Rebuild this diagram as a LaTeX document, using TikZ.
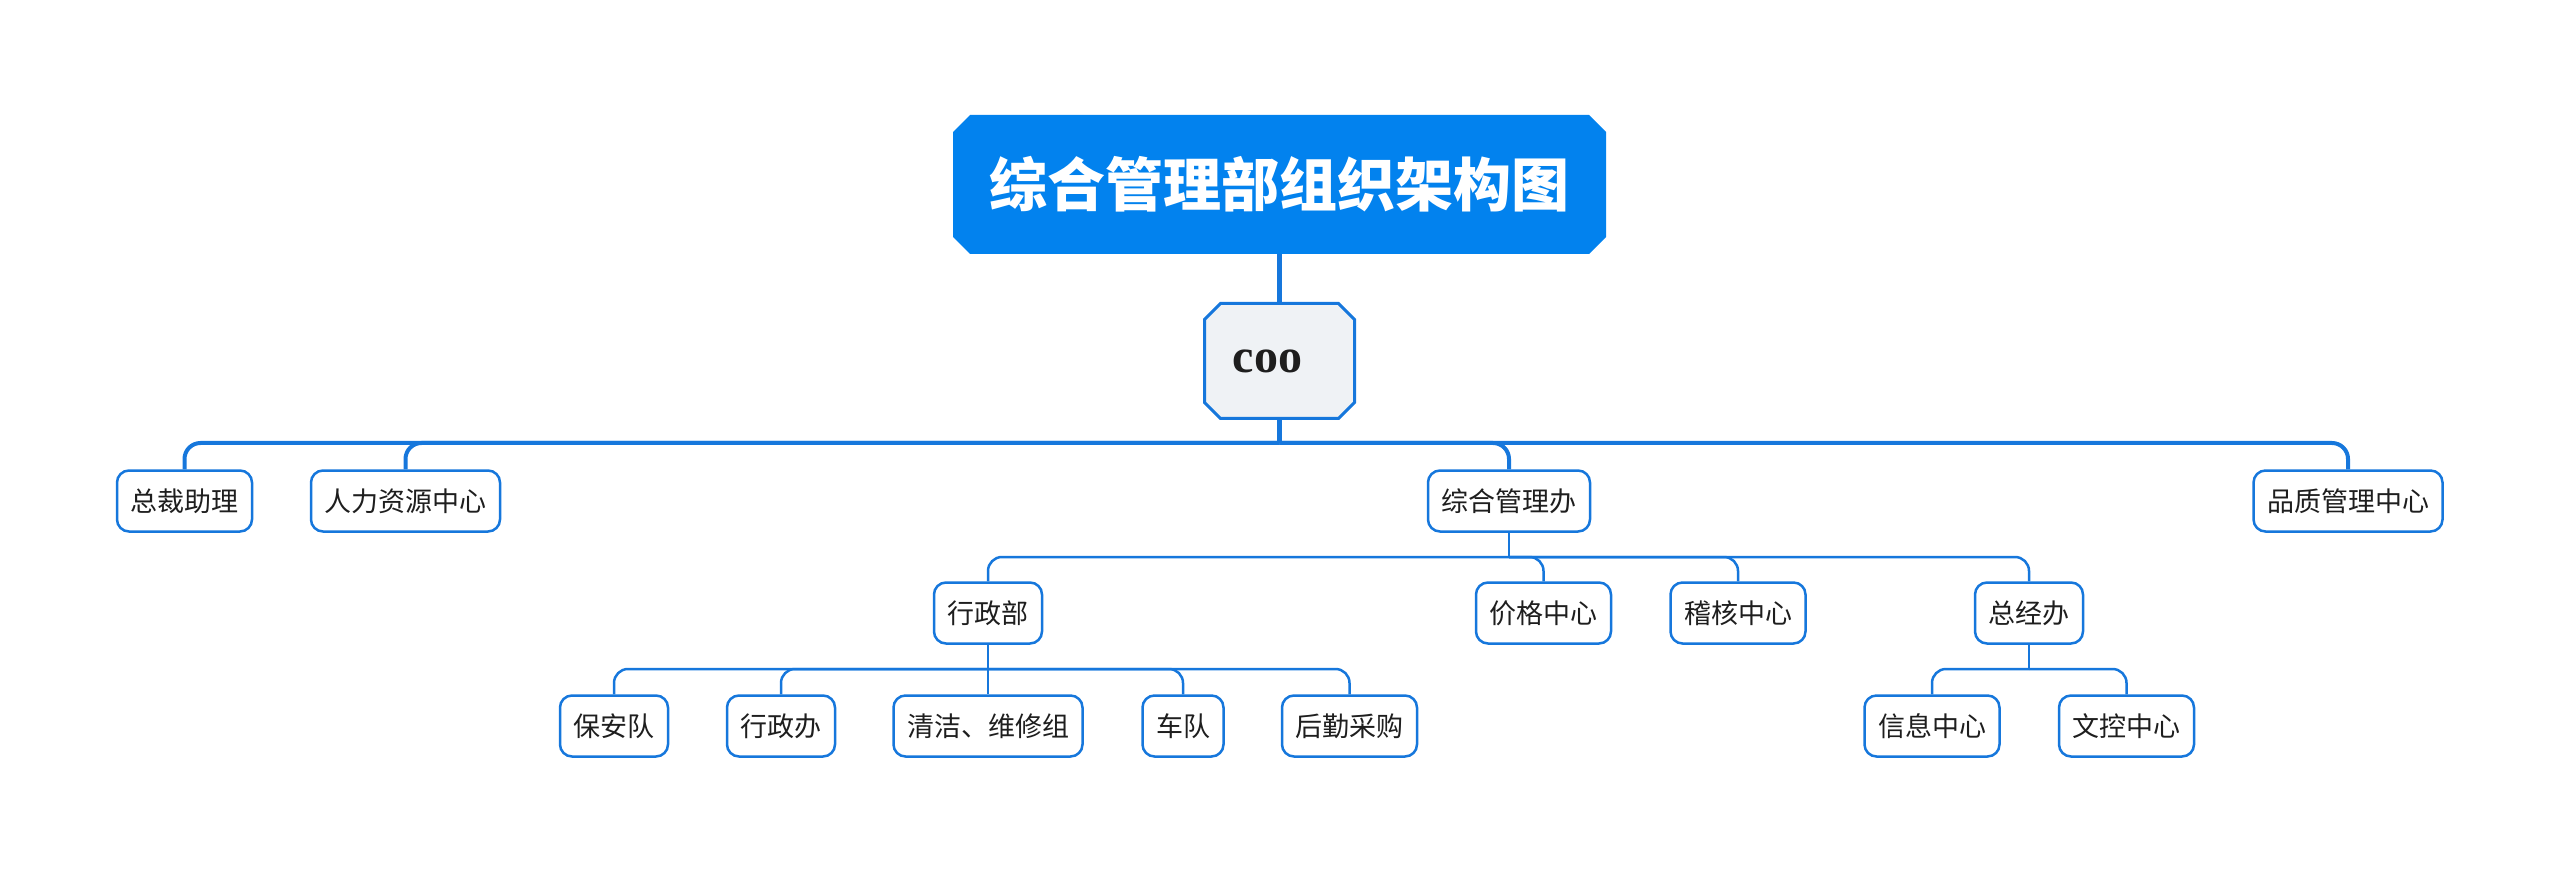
\documentclass[tikz,border=0pt]{standalone}
\usepackage{fontspec}
\newfontfamily\cjk{Noto Sans CJK SC}
\newfontfamily\serifb{Liberation Serif}
\definecolor{titleblue}{RGB}{2,130,238}
\definecolor{lineblue}{RGB}{22,119,220}
\definecolor{coofill}{RGB}{239,242,245}
\definecolor{txt}{RGB}{30,30,30}
% chamfered outline inside the path picture bounding box: #1 chamfer x, #2 chamfer y, #3 inset
\newcommand\chamferpath[3]{%
  ([xshift=#1+#3, yshift=-#3]path picture bounding box.north west) --
  ([xshift=-#1-#3, yshift=-#3]path picture bounding box.north east) --
  ([xshift=-#3, yshift=-#2-#3]path picture bounding box.north east) --
  ([xshift=-#3, yshift=#2+#3]path picture bounding box.south east) --
  ([xshift=-#1-#3, yshift=#3]path picture bounding box.south east) --
  ([xshift=#1+#3, yshift=#3]path picture bounding box.south west) --
  ([xshift=#3, yshift=#2+#3]path picture bounding box.south west) --
  ([xshift=#3, yshift=-#2-#3]path picture bounding box.north west) -- cycle}
\tikzset{
  titlebox/.style={rectangle, inner sep=0pt, minimum width=653pt, minimum height=139pt,
    text=white, font=\cjk\bfseries\fontsize{58pt}{58pt}\selectfont,
    path picture={\fill[titleblue] \chamferpath{17pt}{17pt}{0pt};}},
  coobox/.style={rectangle, inner sep=0pt, minimum width=153pt, minimum height=118pt,
    text=txt, font=\serifb\bfseries\fontsize{48pt}{48pt}\selectfont,
    path picture={\draw[fill=coofill, draw=lineblue, line width=3pt] \chamferpath{16pt}{16pt}{1.5pt};}},
  topic/.style={rectangle, rounded corners=12pt, draw=lineblue, line width=2.5pt, fill=white,
    minimum height=61pt, inner xsep=13.5pt, inner ysep=0pt, text=txt,
    font=\cjk\fontsize{27pt}{27pt}\selectfont},
  trunk/.style={draw=lineblue, line width=5pt},
  busone/.style={draw=lineblue, line width=4pt, rounded corners=16pt},
  bustwo/.style={draw=lineblue, line width=2.5pt, rounded corners=14pt},
}
\begin{document}
\begin{tikzpicture}[x=1pt,y=-1pt]
\useasboundingbox (0,0) rectangle (2560,874);
% nodes
\node[titlebox] (title) at (1279.5,184.5) {综合管理部组织架构图};
\node[coobox] (coo) at (1279.5,361) {coo\hspace*{24pt}};
\coordinate (j1) at (1279.5,443);
\node[topic] (zcz) at (184.5,501) {总裁助理};
\node[topic] (rlzy) at (405.5,501) {人力资源中心};
\node[topic] (zhgl) at (1509,501) {综合管理办};
\node[topic] (pzgl) at (2348,501) {品质管理中心};
\coordinate (j2) at (1509,557);
\node[topic] (xzb) at (988,613) {行政部};
\node[topic] (jgzx) at (1543.5,613) {价格中心};
\node[topic] (jhzx) at (1738,613) {稽核中心};
\node[topic] (zjb) at (2029,613) {总经办};
\coordinate (j3) at (988,669);
\coordinate (j4) at (2029,669);
\node[topic] (bad) at (614,726) {保安队};
\node[topic] (xzbg) at (781,726) {行政办};
\node[topic] (qj) at (988,726) {清洁、维修组};
\node[topic] (cd) at (1183,726) {车队};
\node[topic] (hq) at (1349.5,726) {后勤采购};
\node[topic] (xx) at (1932,726) {信息中心};
\node[topic] (wk) at (2126.5,726) {文控中心};
% connectors
\draw[trunk] (title.south) -- (coo.north);
\draw[trunk] (coo.south) -- (j1);
\foreach \c in {zcz,rlzy,zhgl,pzgl} \draw[busone] (j1) -| (\c.north);
\draw[bustwo] (zhgl.south) -- (j2);
\foreach \c in {xzb,jgzx,jhzx,zjb} \draw[bustwo] (j2) -| (\c.north);
\draw[bustwo] (xzb.south) -- (qj.north);
\foreach \c in {bad,xzbg,cd,hq} \draw[bustwo] (j3) -| (\c.north);
\draw[bustwo] (zjb.south) -- (j4);
\foreach \c in {xx,wk} \draw[bustwo] (j4) -| (\c.north);
\end{tikzpicture}
\end{document}
